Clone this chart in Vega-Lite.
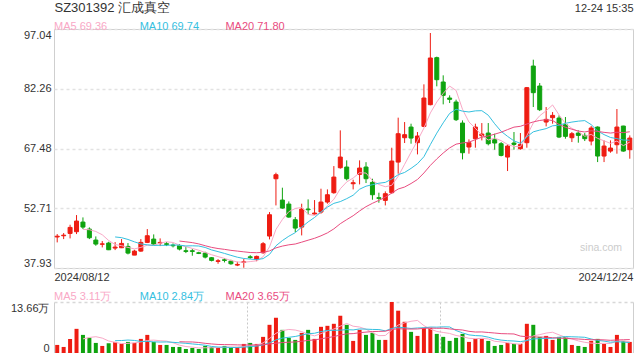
{
  "$schema": "https://vega.github.io/schema/vega-lite/v6.json",
  "background": "white",
  "padding": {"left": 10, "top": 0, "right": 6, "bottom": 0},
  "config": {
    "font": "Liberation Sans",
    "view": {"stroke": "#cfcfcf"},
    "scale": {"continuousPadding": 0},
    "axis": {"labelFont": "Liberation Sans", "labelFontSize": 11, "labelColor": "#333333"},
    "legend": {"labelFont": "Liberation Sans", "labelFontSize": 11}
  },
  "datasets": {
    "k": [
      {"i":0,"o":45.6,"h":46.32,"l":44.26,"c":45.8,"v":2.16},
      {"i":1,"o":45.9,"h":46.57,"l":45.08,"c":46.05,"v":1.62},
      {"i":2,"o":46.48,"h":48.63,"l":45.25,"c":47.97,"v":3.78},
      {"i":3,"o":46.9,"h":51.02,"l":46.32,"c":49.54,"v":6.47},
      {"i":4,"o":49.29,"h":50.44,"l":47.56,"c":48.05,"v":4.85},
      {"i":5,"o":47.56,"h":47.97,"l":45.08,"c":45.41,"v":4.05},
      {"i":6,"o":44.84,"h":45.74,"l":43.43,"c":43.85,"v":2.7},
      {"i":7,"o":43.8,"h":44.59,"l":43.02,"c":43.9,"v":1.89},
      {"i":8,"o":44.1,"h":44.42,"l":42.36,"c":42.44,"v":2.61},
      {"i":9,"o":42.86,"h":44.34,"l":42.36,"c":43.1,"v":2.97},
      {"i":10,"o":42.94,"h":45.08,"l":42.86,"c":44.01,"v":2.43},
      {"i":11,"o":43.27,"h":44.1,"l":41.29,"c":41.62,"v":2.97},
      {"i":12,"o":41.12,"h":42.44,"l":41.12,"c":42.11,"v":2.7},
      {"i":13,"o":42.11,"h":45.08,"l":41.95,"c":44.26,"v":3.78},
      {"i":14,"o":44.26,"h":47.56,"l":44.1,"c":45.91,"v":4.85},
      {"i":15,"o":45.08,"h":46.24,"l":43.68,"c":43.85,"v":2.97},
      {"i":16,"o":44.1,"h":45.25,"l":43.35,"c":44.26,"v":2.16},
      {"i":17,"o":43.93,"h":44.34,"l":43.35,"c":43.76,"v":2.16},
      {"i":18,"o":43.6,"h":44.01,"l":43.02,"c":43.43,"v":1.62},
      {"i":19,"o":43.43,"h":43.85,"l":42.28,"c":42.61,"v":1.62},
      {"i":20,"o":42.2,"h":43.1,"l":41.62,"c":42.03,"v":1.08},
      {"i":21,"o":42.2,"h":42.61,"l":40.96,"c":42.03,"v":1.35},
      {"i":22,"o":41.7,"h":41.95,"l":41.37,"c":41.54,"v":1.08},
      {"i":23,"o":41.62,"h":41.95,"l":40.3,"c":40.63,"v":1.89},
      {"i":24,"o":40.47,"h":40.63,"l":39.56,"c":39.81,"v":1.62},
      {"i":25,"o":39.56,"h":40.14,"l":38.98,"c":39.72,"v":1.35},
      {"i":26,"o":39.97,"h":40.38,"l":39.31,"c":39.81,"v":1.89},
      {"i":27,"o":39.64,"h":39.97,"l":38.73,"c":38.98,"v":1.35},
      {"i":28,"o":38.65,"h":39.48,"l":38.4,"c":38.82,"v":1.62},
      {"i":29,"o":39.31,"h":40.14,"l":37.99,"c":39.48,"v":2.43},
      {"i":30,"o":40.7,"h":41.1,"l":40.2,"c":40.5,"v":2.7},
      {"i":31,"o":40.0,"h":41.0,"l":39.6,"c":40.8,"v":2.43},
      {"i":32,"o":41.7,"h":44.34,"l":41.45,"c":43.93,"v":4.32},
      {"i":33,"o":45.83,"h":51.76,"l":45.0,"c":51.1,"v":7.55},
      {"i":34,"o":60.0,"h":61.5,"l":53.41,"c":61.0,"v":9.44},
      {"i":35,"o":54.73,"h":57.79,"l":52.59,"c":52.75,"v":6.2},
      {"i":36,"o":53.74,"h":54.4,"l":50.36,"c":50.53,"v":4.05},
      {"i":37,"o":49.87,"h":50.53,"l":46.82,"c":47.8,"v":3.51},
      {"i":38,"o":48.05,"h":53.83,"l":45.99,"c":52.51,"v":5.39},
      {"i":39,"o":52.51,"h":54.9,"l":51.19,"c":52.34,"v":6.2},
      {"i":40,"o":51.27,"h":54.73,"l":51.19,"c":51.52,"v":3.78},
      {"i":41,"o":51.76,"h":57.54,"l":51.35,"c":54.24,"v":7.01},
      {"i":42,"o":54.24,"h":57.37,"l":53.83,"c":56.05,"v":7.28},
      {"i":43,"o":56.55,"h":63.14,"l":56.3,"c":60.42,"v":7.82},
      {"i":44,"o":62.73,"h":71.97,"l":62.49,"c":65.37,"v":9.98},
      {"i":45,"o":62.9,"h":64.55,"l":59.6,"c":60.01,"v":7.55},
      {"i":46,"o":58.77,"h":59.77,"l":57.37,"c":59.02,"v":3.24},
      {"i":47,"o":61.08,"h":64.55,"l":58.61,"c":62.65,"v":6.2},
      {"i":48,"o":62.9,"h":64.1,"l":58.94,"c":60.01,"v":4.85},
      {"i":49,"o":59.1,"h":60.01,"l":54.81,"c":56.05,"v":5.39},
      {"i":50,"o":55.31,"h":56.55,"l":54.07,"c":55.15,"v":3.51},
      {"i":51,"o":54.65,"h":56.88,"l":53.41,"c":56.3,"v":3.51},
      {"i":52,"o":56.55,"h":67.68,"l":56.3,"c":64.38,"v":13.66},
      {"i":53,"o":64.13,"h":75.11,"l":61.25,"c":71.14,"v":11.33},
      {"i":54,"o":70.15,"h":74.03,"l":68.84,"c":70.9,"v":8.36},
      {"i":55,"o":72.79,"h":73.62,"l":68.67,"c":70.07,"v":5.66},
      {"i":56,"o":68.92,"h":71.56,"l":66.03,"c":70.57,"v":4.58},
      {"i":57,"o":72.96,"h":83.35,"l":72.79,"c":79.97,"v":6.74},
      {"i":58,"o":78.32,"h":96.05,"l":78.16,"c":89.87,"v":6.74},
      {"i":59,"o":89.95,"h":90.2,"l":82.86,"c":84.5,"v":5.12},
      {"i":60,"o":83.93,"h":85.58,"l":78.4,"c":80.63,"v":4.32},
      {"i":61,"o":79.97,"h":80.63,"l":78.73,"c":79.64,"v":3.24},
      {"i":62,"o":78.98,"h":79.56,"l":74.28,"c":74.61,"v":4.05},
      {"i":63,"o":73.78,"h":74.44,"l":64.79,"c":66.44,"v":5.12},
      {"i":64,"o":67.85,"h":69.74,"l":66.2,"c":68.92,"v":2.97},
      {"i":65,"o":69.91,"h":73.62,"l":67.68,"c":72.79,"v":3.78},
      {"i":66,"o":70.65,"h":73.78,"l":69.49,"c":71.06,"v":3.78},
      {"i":67,"o":71.31,"h":73.78,"l":68.26,"c":68.67,"v":3.24},
      {"i":68,"o":69.66,"h":71.14,"l":67.19,"c":68.84,"v":1.89},
      {"i":69,"o":68.67,"h":69.08,"l":65.54,"c":65.78,"v":2.16},
      {"i":70,"o":65.37,"h":68.5,"l":61.91,"c":68.09,"v":2.7},
      {"i":71,"o":68.84,"h":71.56,"l":67.19,"c":68.5,"v":2.43},
      {"i":72,"o":67.43,"h":71.31,"l":67.19,"c":68.5,"v":2.43},
      {"i":73,"o":68.92,"h":82.7,"l":67.68,"c":82.53,"v":7.82},
      {"i":74,"o":87.88,"h":89.45,"l":77.74,"c":81.29,"v":7.55},
      {"i":75,"o":82.94,"h":83.68,"l":76.75,"c":77.08,"v":4.32},
      {"i":76,"o":74.03,"h":77.74,"l":72.96,"c":74.69,"v":4.58},
      {"i":77,"o":75.1,"h":76.5,"l":73.62,"c":75.68,"v":3.51},
      {"i":78,"o":75.02,"h":75.68,"l":70.07,"c":70.32,"v":4.32},
      {"i":79,"o":73.37,"h":75.27,"l":69.91,"c":70.49,"v":4.32},
      {"i":80,"o":70.15,"h":71.56,"l":69.08,"c":71.14,"v":2.16},
      {"i":81,"o":71.31,"h":71.97,"l":68.92,"c":70.73,"v":1.89},
      {"i":82,"o":70.73,"h":71.31,"l":69.33,"c":69.91,"v":1.62},
      {"i":83,"o":69.33,"h":73.04,"l":68.26,"c":72.55,"v":3.24},
      {"i":84,"o":72.79,"h":72.96,"l":64.13,"c":65.62,"v":3.78},
      {"i":85,"o":65.62,"h":69.49,"l":64.13,"c":68.09,"v":2.43},
      {"i":86,"o":66.85,"h":69.49,"l":66.44,"c":67.6,"v":1.62},
      {"i":87,"o":68.42,"h":77.25,"l":66.2,"c":72.79,"v":4.85},
      {"i":88,"o":73.04,"h":73.1,"l":66.7,"c":66.85,"v":3.24},
      {"i":89,"o":67.19,"h":70.73,"l":64.96,"c":70.07,"v":2.97}
    ]
  },
  "vconcat": [
    {
      "width": 579,
      "height": 239,
      "data": {"name": "k"},
      "layer": [
        {
          "mark": {"type": "rule", "strokeWidth": 1},
          "encoding": {
            "x": {"field": "i", "type": "quantitative", "title": null,
              "scale": {"domain": [-0.5, 89.5], "nice": false, "zero": false, "padding": 0},
              "axis": {"values": [-0.5, 89.5], "labelAlign": {"condition": {"test": "datum.value < 0", "value": "left"}, "value": "right"}, "labelExpr": "datum.value < 0 ? '2024/08/12' : '2024/12/24'", "domain": false, "ticks": false, "grid": false, "labelPadding": 3}},
            "y": {"field": "l", "type": "quantitative", "title": null,
              "scale": {"domain": [37.93, 97.04], "nice": false, "zero": false},
              "axis": {"values": [37.93, 52.71, 67.48, 82.26, 97.04], "format": ".2f", "labelFlush": true, "domain": false, "ticks": false, "grid": true, "gridDash": [3, 3], "gridColor": "#e2e2e2", "gridWidth": 1.5, "labelPadding": 3}},
            "y2": {"field": "h"},
            "color": {"condition": {"test": "datum.c >= datum.o", "value": "#ee1c12"}, "value": "#0fa30f"}
          }
        },
        {
          "mark": {"type": "bar", "size": 4, "strokeWidth": 1},
          "encoding": {
            "x": {"field": "i", "type": "quantitative", "title": null,
              "axis": {"orient": "top", "values": [-0.5, 89.5], "labelAlign": {"condition": {"test": "datum.value < 0", "value": "left"}, "value": "right"}, "labelExpr": "datum.value < 0 ? 'SZ301392 汇成真空' : '12-24 15:35'", "labelFontSize": {"condition": {"test": "datum.value < 0", "value": 13}, "value": 11}, "labelBaseline": "alphabetic", "labelPadding": 18, "domain": false, "ticks": false, "grid": false}},
            "y": {"field": "o", "type": "quantitative", "title": null},
            "y2": {"field": "c"},
            "color": {"condition": {"test": "datum.c >= datum.o", "value": "#ee1c12"}, "value": "#0fa30f"},
            "stroke": {"condition": {"test": "datum.c >= datum.o", "value": "#ee1c12"}, "value": "#0fa30f"}
          }
        },
        {
          "transform": [
            {"window": [{"op": "mean", "field": "c", "as": "ma5"}], "frame": [-4, 0], "sort": [{"field": "i"}]},
            {"window": [{"op": "mean", "field": "c", "as": "ma10"}], "frame": [-9, 0], "sort": [{"field": "i"}]},
            {"window": [{"op": "mean", "field": "c", "as": "ma20"}], "frame": [-19, 0], "sort": [{"field": "i"}]},
            {"fold": ["ma5", "ma10", "ma20"], "as": ["k", "ma"]},
            {"filter": "datum.i >= (datum.k == 'ma5' ? 4 : datum.k == 'ma10' ? 9 : 19)"}
          ],
          "mark": {"type": "line", "strokeWidth": 1},
          "encoding": {
            "x": {"field": "i", "type": "quantitative", "axis": null},
            "y": {"field": "ma", "type": "quantitative", "title": null},
            "color": {"field": "k", "type": "nominal",
              "scale": {"domain": ["ma5", "ma10", "ma20"], "range": ["#f9a8c6", "#35c0df", "#e94c7f"]},
              "legend": {"orient": "none", "legendX": -11, "legendY": -8, "direction": "horizontal", "title": null, "symbolSize": 0.01, "symbolStrokeWidth": 0, "symbolOpacity": 0, "labelOffset": 0, "columnPadding": 14.7, "gridAlign": "all", "padding": 0,
                "labelExpr": "datum.label == 'ma5' ? 'MA5 69.36' : datum.label == 'ma10' ? 'MA10 69.74' : 'MA20 71.80'",
                "encode": {"labels": {"update": {"fill": {"signal": "datum.value == 'ma5' ? '#f9a8c6' : datum.value == 'ma10' ? '#35c0df' : '#e94c7f'"}}}}}
            }
          }
        },
        {
          "data": {"values": [{"t": "sina.com"}]},
          "mark": {"type": "text", "align": "right", "baseline": "middle", "fontSize": 10.5, "color": "#cccccc"},
          "encoding": {
            "x": {"datum": 87.8, "type": "quantitative", "axis": null},
            "y": {"datum": 42.9, "type": "quantitative", "title": null},
            "text": {"field": "t"}
          }
        }
      ],
      "resolve": {"axis": {"x": "independent"}}
    },
    {
      "width": 579,
      "height": 51,
      "view": {"stroke": null},
      "data": {"name": "k"},
      "layer": [
        {
          "mark": {"type": "bar", "size": 4},
          "encoding": {
            "x": {"field": "i", "type": "quantitative", "title": null,
              "scale": {"domain": [-0.5, 89.5], "nice": false, "zero": false, "padding": 0},
              "axis": {"values": [29.5, 59.5], "labels": false, "ticks": false, "grid": true, "gridDash": [2, 2], "gridColor": "#c8c8c8", "domain": true, "domainColor": "#cfcfcf"}},
            "y": {"field": "v", "type": "quantitative", "title": null,
              "scale": {"domain": [0, 13.66], "nice": false},
              "axis": {"values": [0, 13.66], "labelExpr": "datum.value == 0 ? '0' : '13.66万'", "labelFlush": true, "ticks": false, "grid": true, "gridDash": [3, 3], "gridColor": "#d8d8d8", "gridWidth": 1.5, "domain": true, "domainColor": "#cfcfcf", "labelPadding": 5}},
            "color": {"condition": {"test": "datum.c >= datum.o", "value": "#ee1c12"}, "value": "#0fa30f"}
          }
        },
        {
          "transform": [
            {"window": [{"op": "mean", "field": "v", "as": "ma5"}], "frame": [-4, 0], "sort": [{"field": "i"}]},
            {"window": [{"op": "mean", "field": "v", "as": "ma10"}], "frame": [-9, 0], "sort": [{"field": "i"}]},
            {"window": [{"op": "mean", "field": "v", "as": "ma20"}], "frame": [-19, 0], "sort": [{"field": "i"}]},
            {"fold": ["ma5", "ma10", "ma20"], "as": ["k", "mv"]},
            {"filter": "datum.i >= (datum.k == 'ma5' ? 4 : datum.k == 'ma10' ? 9 : 19)"}
          ],
          "mark": {"type": "line", "strokeWidth": 1},
          "encoding": {
            "x": {"field": "i", "type": "quantitative", "axis": null},
            "y": {"field": "mv", "type": "quantitative", "title": null,
              "axis": {"orient": "right", "values": [0], "labels": false, "ticks": false, "grid": false, "domain": true, "domainColor": "#cfcfcf"}},
            "color": {"field": "k", "type": "nominal",
              "scale": {"domain": ["ma5", "ma10", "ma20"], "range": ["#f9a8c6", "#35c0df", "#e94c7f"]},
              "legend": {"orient": "none", "legendX": -11, "legendY": -11, "direction": "horizontal", "title": null, "symbolSize": 0.01, "symbolStrokeWidth": 0, "symbolOpacity": 0, "labelOffset": 0, "columnPadding": 9.8, "gridAlign": "all", "padding": 0,
                "labelExpr": "datum.label == 'ma5' ? 'MA5 3.11万' : datum.label == 'ma10' ? 'MA10 2.84万' : 'MA20 3.65万'",
                "encode": {"labels": {"update": {"fill": {"signal": "datum.value == 'ma5' ? '#f9a8c6' : datum.value == 'ma10' ? '#35c0df' : '#e94c7f'"}}}}}
            }
          }
        }
      ],
      "resolve": {"axis": {"x": "independent", "y": "independent"}}
    }
  ],
  "spacing": 8,
  "resolve": {"scale": {"color": "independent"}, "legend": {"color": "independent"}}
}
